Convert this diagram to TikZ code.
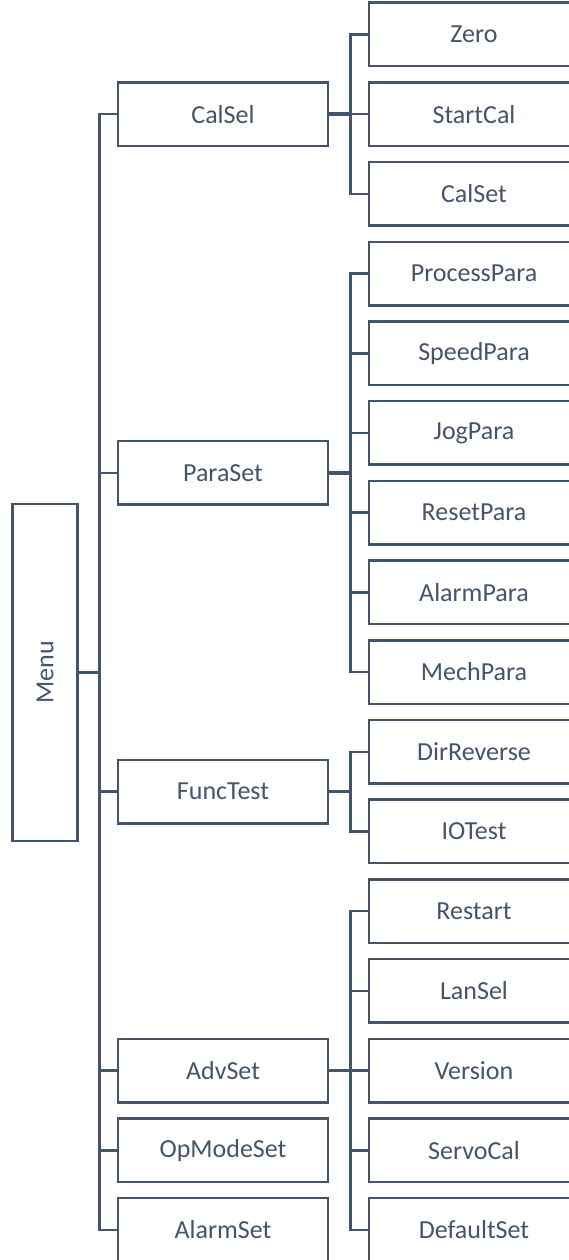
\documentclass[tikz,border=0pt]{standalone}
\usepackage{fontspec}
\setmainfont{Carlito}
\definecolor{slate}{HTML}{44546A}
\begin{document}
\begin{tikzpicture}[x=1pt,y=-1pt,
  box/.style={draw=slate, line width=2.5pt, text=slate, fill=white,
    minimum width=210pt, minimum height=63.5pt, inner sep=0pt,
    font=\fontsize{26}{30}\selectfont},
  conn/.style={draw=slate, line width=2.5pt},
  stub/.style={draw=slate, line width=3.5pt}]
\useasboundingbox (0,0) rectangle (569,1260);
\fill[white] (0,0) rectangle (569,1260);
\clip (0,0) rectangle (569,1260);
% root
\node[box, minimum width=65pt, minimum height=337pt] (menu) at (45.2,672.4) {\rotatebox{90}{Menu}};
% level 1
\node[box] (calsel)    at (223,114.15) {CalSel};
\node[box] (paraset)   at (223,472.8)  {ParaSet};
\node[box] (functest)  at (223,791.6)  {FuncTest};
\node[box] (advset)    at (223,1070.55) {AdvSet};
\node[box] (opmodeset) at (223,1150.25) {OpModeSet};
\node[box] (alarmset)  at (223,1229.95) {AlarmSet};
% level 2
\node[box] (zero)        at (474,34.45)   {Zero};
\node[box] (startcal)    at (474,114.15)  {StartCal};
\node[box] (calset)      at (474,193.85)  {CalSet};
\node[box] (processpara) at (474,273.55)  {ProcessPara};
\node[box] (speedpara)   at (474,353.25)  {SpeedPara};
\node[box] (jogpara)     at (474,432.95)  {JogPara};
\node[box] (resetpara)   at (474,512.65)  {ResetPara};
\node[box] (alarmpara)   at (474,592.35)  {AlarmPara};
\node[box] (mechpara)    at (474,672.05)  {MechPara};
\node[box] (dirreverse)  at (474,751.75)  {DirReverse};
\node[box] (iotest)      at (474,831.45)  {IOTest};
\node[box] (restart)     at (474,911.15)  {Restart};
\node[box] (lansel)      at (474,990.85)  {LanSel};
\node[box] (version)     at (474,1070.55) {Version};
\node[box] (servocal)    at (474,1150.25) {ServoCal};
\node[box] (defaultset)  at (474,1229.95) {DefaultSet};
% connectors: root
\foreach \c in {calsel,paraset,functest,advset,opmodeset,alarmset}
  \draw[conn] (menu.east) -- ++(20.5,0) |- (\c.west);
\draw[stub] (menu.east) -- ++(20.5,0);
% connectors: level 2
\foreach \p/\c in {calsel/zero,calsel/startcal,calsel/calset,
  paraset/processpara,paraset/speedpara,paraset/jogpara,paraset/resetpara,paraset/alarmpara,paraset/mechpara,
  functest/dirreverse,functest/iotest,
  advset/restart,advset/lansel,advset/version,advset/servocal,advset/defaultset}
  \draw[conn] (\p.east) -- ++(21,0) |- (\c.west);
\foreach \p in {calsel,paraset,functest,advset}
  \draw[stub] (\p.east) -- ++(21,0);
\end{tikzpicture}
\end{document}
